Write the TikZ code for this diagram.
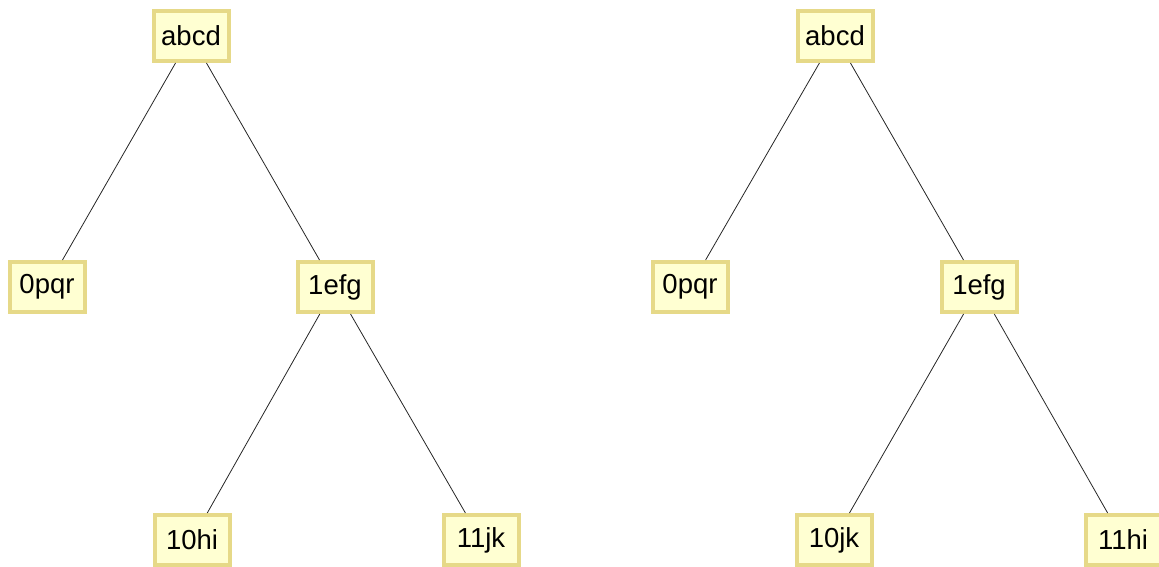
\documentclass[tikz,border=0pt]{standalone}
\usepackage{fontspec}
\setmainfont{Liberation Sans}
\usepackage{tikz}
\definecolor{boxfill}{HTML}{FFFFD2}
\definecolor{boxedge}{HTML}{E6D988}
\newcommand{\boxfont}{\fontsize{27.5}{32}\selectfont}

\begin{document}
\begin{tikzpicture}[x=1pt, y=-1pt,
        keybox/.style={draw=boxedge, fill=boxfill, line width=4pt,
            minimum width=75pt, minimum height=50pt, inner sep=0pt,
            font=\boxfont},
        branch/.style={draw=black!85, line width=.8pt}]
                \useasboundingbox (0,0) rectangle (1159,567);

                % Левое дерево
                \node[keybox] (la)  at (191,36)  {abcd};
                \node[keybox] (l0)  at (47,287)  {0pqr};
                \node[keybox] (l1)  at (335,287) {1efg};
                \node[keybox] (l10) at (192,540) {10hi};
                \node[keybox] (l11) at (481,540) {11jk};

                % Правое дерево
                \node[keybox] (ra)  at (835,36)  {abcd};
                \node[keybox] (r0)  at (690,287) {0pqr};
                \node[keybox] (r1)  at (979,287) {1efg};
                \node[keybox] (r10) at (834,540) {10jk};
                \node[keybox] (r11) at (1123,540) {11hi};

                % Ветви
                \draw[branch] (la) -- (l0);
                \draw[branch] (la) -- (l1);
                \draw[branch] (l1) -- (l10);
                \draw[branch] (l1) -- (l11);
                \draw[branch] (ra) -- (r0);
                \draw[branch] (ra) -- (r1);
                \draw[branch] (r1) -- (r10);
                \draw[branch] (r1) -- (r11);
            \end{tikzpicture}
\end{document}
